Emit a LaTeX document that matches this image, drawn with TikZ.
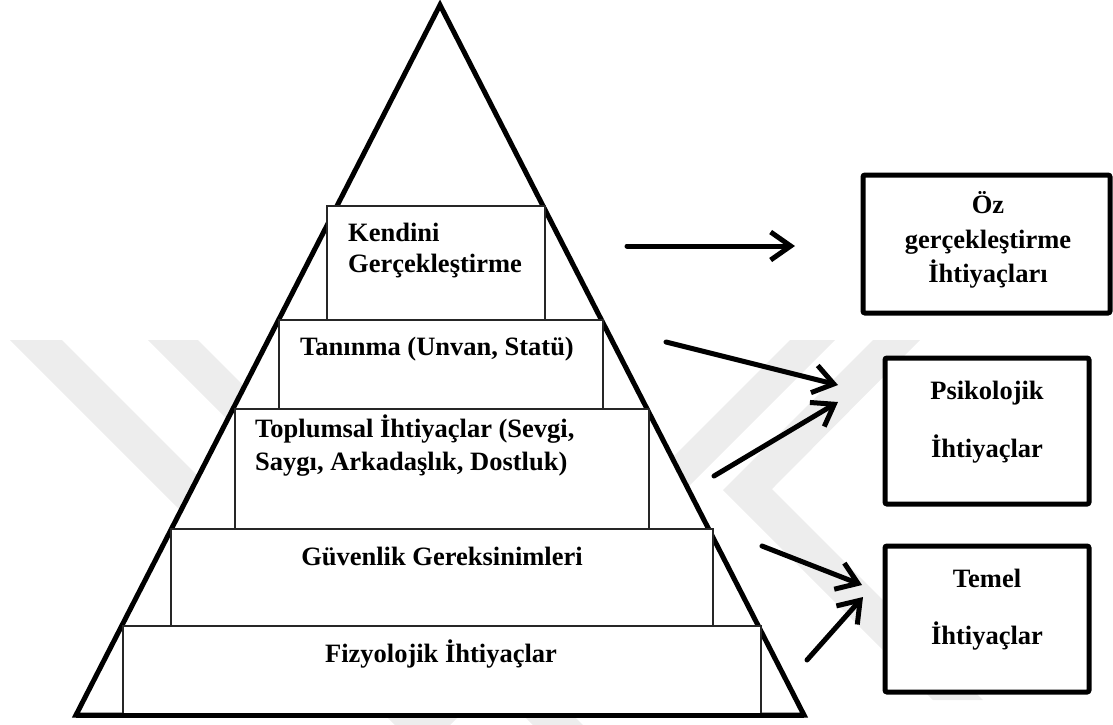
\documentclass[tikz,border=0pt]{standalone}
\usepackage{fontspec}
\setmainfont{Liberation Serif}
\usetikzlibrary{arrows.meta}
\begin{document}
\begin{tikzpicture}[x=1pt,y=-1pt,
  tier/.style={draw=black!85, line width=1.3pt, fill=white, inner sep=0pt},
  need/.style={draw=black, line width=5pt, fill=white, rounded corners=2pt, inner sep=0pt},
  lbl/.style={font=\fontsize{26.5}{30}\selectfont\bfseries, inner sep=0pt},
  link/.style={line width=5pt, line cap=round, line join=round,
    -{Straight Barb[length=20pt,width=28pt]}},
  wm/.style={fill=black!7, draw=none}]
\useasboundingbox (0,0) rectangle (1113,724);

% faint background mark
\fill[wm] (10,340) -- (62,340) -- (462,740) -- (410,740) -- cycle;
\fill[wm] (148,340) -- (198,340) -- (598,740) -- (548,740) -- cycle;
\fill[wm] (790,340) -- (835,340) -- (435,740) -- (390,740) -- cycle;
\fill[wm] (873,340) -- (920,340) -- (772,489) -- (983,700) -- (933,700) -- (723,490) -- cycle;

% pyramid outline
\coordinate (apex) at (440,5);
\coordinate (bl) at (76,715);
\coordinate (br) at (804,715);
\draw[line width=5pt, line join=miter, fill=white] (apex) -- (br) -- (bl) -- cycle;

% pyramid tiers
\node[tier, minimum width=218pt, minimum height=114pt] (t1) at (436,263) {};
\node[tier, minimum width=324pt, minimum height=89pt] (t2) at (441,364.5) {};
\node[tier, minimum width=414pt, minimum height=120pt] (t3) at (442,469) {};
\node[tier, minimum width=542pt, minimum height=97pt] (t4) at (442,577.5) {};
\node[tier, minimum width=638pt, minimum height=89pt] (t5) at (442,670.5) {};
\draw[line width=5pt] (bl) -- (br);

% tier labels
\node[lbl, anchor=base west] (k1) at (348,241) {Kendini};
\node[lbl, anchor=base west] (k2) at (348,272) {Gerçekleştirme};
\node[lbl, anchor=base] (tn) at (437,355) {Tanınma (Unvan, Statü)};
\node[lbl, anchor=base west] (tp1) at (255,437) {Toplumsal İhtiyaçlar (Sevgi,};
\node[lbl, anchor=base west] (tp2) at (255,470) {Saygı, Arkadaşlık, Dostluk)};
\node[lbl, anchor=base] (gv) at (442,565) {Güvenlik Gereksinimleri};
\node[lbl, anchor=base] (fz) at (441,662) {Fizyolojik İhtiyaçlar};

% need groups
\node[need, minimum width=247pt, minimum height=138pt] (n1) at (986.5,244) {};
\node[need, minimum width=204pt, minimum height=146pt] (n2) at (987,431) {};
\node[need, minimum width=204pt, minimum height=146pt] (n3) at (987,619) {};

\node[lbl, anchor=base] (o1) at (988,213) {Öz};
\node[lbl, anchor=base] (o2) at (988,248) {gerçekleştirme};
\node[lbl, anchor=base] (o3) at (988,282) {İhtiyaçları};
\node[lbl, anchor=base] (p1) at (987,399) {Psikolojik};
\node[lbl, anchor=base] (p2) at (987,457) {İhtiyaçlar};
\node[lbl, anchor=base] (b1) at (987,587) {Temel};
\node[lbl, anchor=base] (b2) at (987,644) {İhtiyaçlar};

% arrows
\coordinate (a1s) at (627,246);  \coordinate (a1e) at (795,246);
\coordinate (a2s) at (666,342);  \coordinate (a2e) at (838,385);
\coordinate (a3s) at (714,476);  \coordinate (a3e) at (838,402);
\coordinate (a4s) at (762,546);  \coordinate (a4e) at (862,585);
\coordinate (a5s) at (807,660);  \coordinate (a5e) at (863,597);
\draw[link] (a1s) -- (a1e);
\draw[link] (a2s) -- (a2e);
\draw[link] (a3s) -- (a3e);
\draw[link] (a4s) -- (a4e);
\draw[link] (a5s) -- (a5e);
\end{tikzpicture}
\end{document}
